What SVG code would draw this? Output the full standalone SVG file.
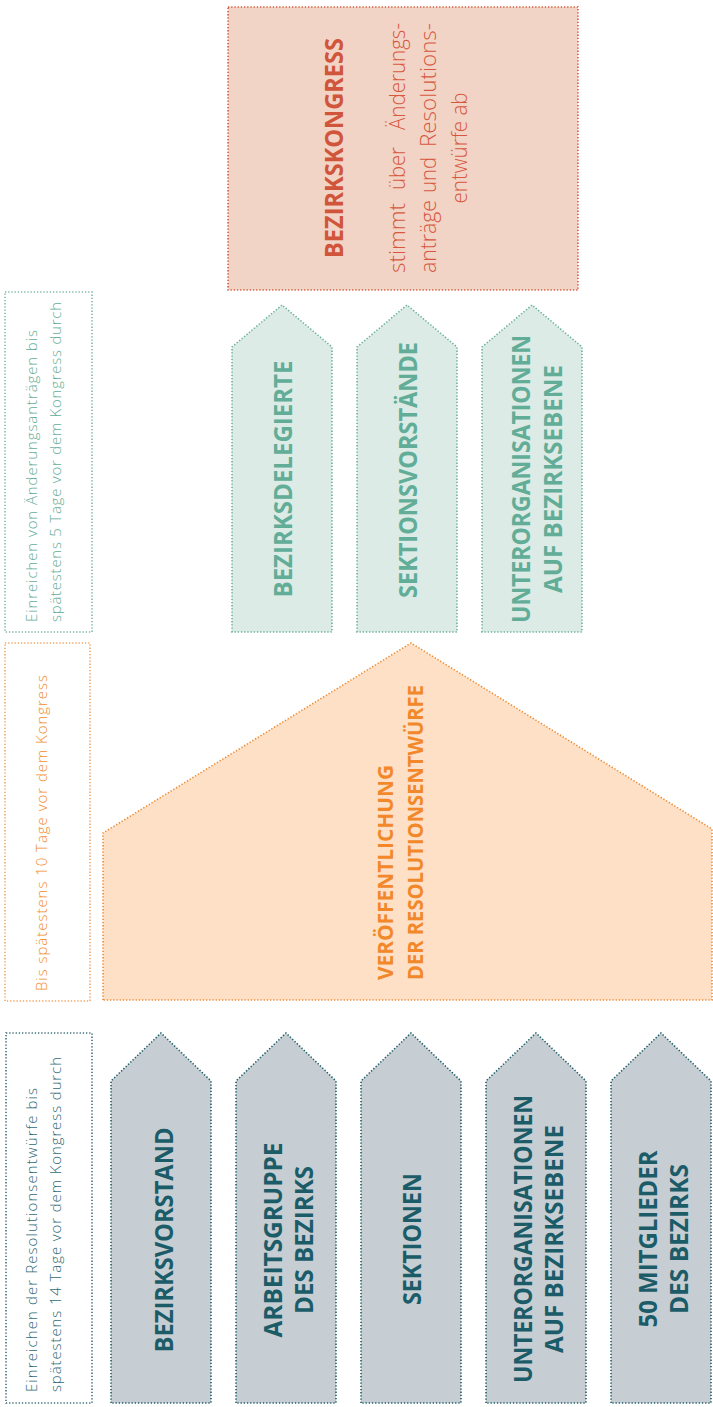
<svg xmlns="http://www.w3.org/2000/svg" width="713" height="1407" viewBox="0 0 713 1407">
<style>
.dot{stroke-width:1.6;stroke-dasharray:1.3 1.9;stroke-linecap:butt}
.lt{font-family:"Open Sans","Noto Sans",sans-serif;font-weight:350;font-size:15px}
.bd{font-family:"Open Sans","Noto Sans",sans-serif;font-weight:700}
.gray .sh{fill:#c6ced3;stroke:#1d5c68}
.gray text{fill:#1b5c68;font-size:25px}
.green .sh{fill:#dcebe5;stroke:#69b09d}
.green text{fill:#62ad98;font-size:25px}
</style>
<rect width="713" height="1407" fill="#ffffff"/>

<g id="kongress">
<rect x="228" y="7" width="350" height="283" fill="#f2d4c6" stroke="#d6583e" class="dot"/>
<text class="bd" font-size="25" fill="#d0553a" text-anchor="middle" textLength="220" lengthAdjust="spacingAndGlyphs" transform="translate(343,148) rotate(-90)">BEZIRKSKONGRESS</text>
<g font-family="'Open Sans','Noto Sans',sans-serif" font-weight="350" font-size="22" fill="#d6583e" lengthAdjust="spacingAndGlyphs">
<text transform="translate(405,0) rotate(-90)"><tspan x="-273" textLength="70" lengthAdjust="spacingAndGlyphs">stimmt</tspan><tspan x="-190" textLength="43" lengthAdjust="spacingAndGlyphs">über</tspan><tspan x="-130" textLength="107" lengthAdjust="spacingAndGlyphs">Änderungs-</tspan></text>
<text transform="translate(436,0) rotate(-90)"><tspan x="-273" textLength="73" lengthAdjust="spacingAndGlyphs">anträge</tspan><tspan x="-193" textLength="36" lengthAdjust="spacingAndGlyphs">und</tspan><tspan x="-147" textLength="124" lengthAdjust="spacingAndGlyphs">Resolutions-</tspan></text>
<text text-anchor="middle" textLength="111" lengthAdjust="spacingAndGlyphs" transform="translate(467,148) rotate(-90)">entwürfe ab</text>
</g>
</g>

<g id="legend-aenderung">
<rect x="5" y="292" width="87" height="340" fill="none" stroke="#7dbaa9" class="dot"/>
<text class="lt" fill="#62ad98" transform="translate(37,622) rotate(-90)"><tspan x="0" y="0" textLength="292" lengthAdjust="spacing">Einreichen von Änderungsanträgen bis</tspan><tspan x="0" y="24" textLength="320" lengthAdjust="spacing">spätestens 5 Tage vor dem Kongress durch</tspan></text>
</g>

<g id="bezirksdelegierte" class="green">
<polygon class="sh dot" points="232,632 232,347 282,305 332,347 332,632"/>
<text class="bd" text-anchor="middle" textLength="237" lengthAdjust="spacingAndGlyphs" transform="translate(292,479) rotate(-90)">BEZIRKSDELEGIERTE</text>
</g>
<g id="sektionsvorstaende" class="green">
<polygon class="sh dot" points="357,632 357,347 407,305 457,347 457,632"/>
<text class="bd" text-anchor="middle" textLength="256" lengthAdjust="spacingAndGlyphs" transform="translate(417,470) rotate(-90)">SEKTIONSVORSTÄNDE</text>
</g>
<g id="unterorg-aenderung" class="green">
<polygon class="sh dot" points="482,632 482,347 532,305 582,347 582,632"/>
<text class="bd" text-anchor="middle" transform="translate(0,479) rotate(-90)"><tspan x="0" y="530" textLength="288" lengthAdjust="spacingAndGlyphs">UNTERORGANISATIONEN</tspan><tspan x="0" y="562" textLength="228" lengthAdjust="spacingAndGlyphs">AUF BEZIRKSEBENE</tspan></text>
</g>

<g id="legend-veroeffentlichung">
<rect x="5" y="643" width="85" height="358" fill="none" stroke="#f3a462" class="dot"/>
<text class="lt" fill="#f28c2c" textLength="316" lengthAdjust="spacing" transform="translate(47,991) rotate(-90)">Bis spätestens 10 Tage vor dem Kongress</text>
</g>

<g id="veroeffentlichung">
<polygon points="103,1000 103,833 411,643 712,829 712,1000" fill="#fde0c6" stroke="#f08a30" class="dot"/>
<text class="bd" font-size="21" fill="#f2882a" transform="translate(0,980) rotate(-90)"><tspan x="0" y="393" textLength="215" lengthAdjust="spacingAndGlyphs">VERÖFFENTLICHUNG</tspan><tspan x="0" y="423" textLength="295" lengthAdjust="spacingAndGlyphs">DER RESOLUTIONSENTWÜRFE</tspan></text>
</g>

<g id="legend-resolution">
<rect x="6" y="1033" width="86" height="370" fill="none" stroke="#3f6f7a" class="dot"/>
<text class="lt" fill="#2e6b78" transform="translate(37,1392) rotate(-90)"><tspan x="0" y="0" textLength="304" lengthAdjust="spacing">Einreichen der Resolutionsentwürfe bis</tspan><tspan x="0" y="24" textLength="335" lengthAdjust="spacing">spätestens 14 Tage vor dem Kongress durch</tspan></text>
</g>

<g id="bezirksvorstand" class="gray">
<polygon class="sh dot" points="111,1403 111,1081 161,1033 211,1081 211,1403"/>
<text class="bd" text-anchor="middle" textLength="225" lengthAdjust="spacingAndGlyphs" transform="translate(173,1240) rotate(-90)">BEZIRKSVORSTAND</text>
</g>
<g id="arbeitsgruppe" class="gray">
<polygon class="sh dot" points="236,1403 236,1081 286,1033 336,1081 336,1403"/>
<text class="bd" text-anchor="middle" transform="translate(0,1240) rotate(-90)"><tspan x="0" y="282" textLength="195" lengthAdjust="spacingAndGlyphs">ARBEITSGRUPPE</tspan><tspan x="0" y="313" textLength="148" lengthAdjust="spacingAndGlyphs">DES BEZIRKS</tspan></text>
</g>
<g id="sektionen" class="gray">
<polygon class="sh dot" points="361,1403 361,1081 411,1033 461,1081 461,1403"/>
<text class="bd" text-anchor="middle" textLength="132" lengthAdjust="spacingAndGlyphs" transform="translate(421,1239) rotate(-90)">SEKTIONEN</text>
</g>
<g id="unterorg-resolution" class="gray">
<polygon class="sh dot" points="486,1403 486,1081 536,1033 586,1081 586,1403"/>
<text class="bd" text-anchor="middle" transform="translate(0,1239) rotate(-90)"><tspan x="0" y="532" textLength="288" lengthAdjust="spacingAndGlyphs">UNTERORGANISATIONEN</tspan><tspan x="0" y="563" textLength="228" lengthAdjust="spacingAndGlyphs">AUF BEZIRKSEBENE</tspan></text>
</g>
<g id="mitglieder" class="gray">
<polygon class="sh dot" points="611,1403 611,1081 661,1033 711,1081 711,1403"/>
<text class="bd" text-anchor="middle" transform="translate(0,1239) rotate(-90)"><tspan x="0" y="657" textLength="177" lengthAdjust="spacingAndGlyphs">50 MITGLIEDER</tspan><tspan x="0" y="688" textLength="150" lengthAdjust="spacingAndGlyphs">DES BEZIRKS</tspan></text>
</g>

<g id="connectors"/>
</svg>
